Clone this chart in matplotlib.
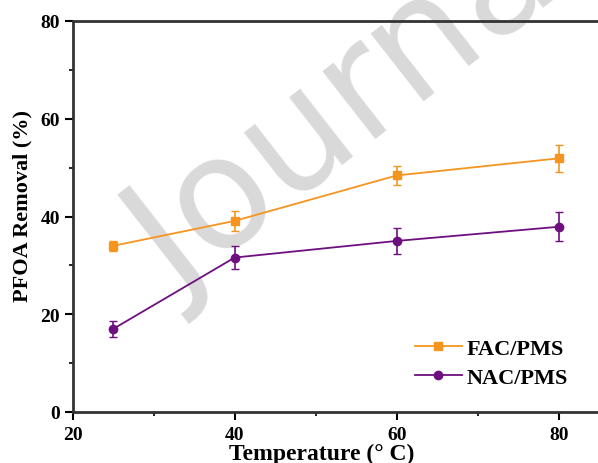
import matplotlib
matplotlib.use("Agg")
import matplotlib.pyplot as plt
from matplotlib.lines import Line2D
from matplotlib.ticker import MultipleLocator

temperature = [25, 40, 60, 80]
fac_pms = [34.0, 39.1, 48.4, 51.9]
fac_err = [1.0, 2.0, 2.0, 2.7]
nac_pms = [17.0, 31.6, 35.0, 37.9]
nac_err = [1.7, 2.3, 2.6, 3.0]

orange = "#F5951F"
purple = "#6E0F80"

plt.rcParams["font.family"] = ["Liberation Serif", "DejaVu Serif"]
plt.rcParams["font.weight"] = "bold"

fig = plt.figure(figsize=(5.98, 4.64), dpi=100)
ax = fig.add_axes([72.7 / 598, 51 / 464, 526.5 / 598, 391 / 464])

# watermark behind the plot
fig.text(178 / 598, 1 - 300 / 464, "Journal Pre-proof", fontsize=112,
         color="#d9d9d9", rotation=38, rotation_mode="anchor",
         ha="left", va="baseline", family="DejaVu Sans", fontweight="normal",
         zorder=-5)
ax.patch.set_alpha(0)

ax.errorbar(temperature, fac_pms, yerr=fac_err, color=orange, marker="s",
            markersize=6, linewidth=1.3, capsize=3, elinewidth=1.2)
ax.errorbar(temperature, nac_pms, yerr=nac_err, color=purple, marker="o",
            markersize=6, linewidth=1.3, capsize=3, elinewidth=1.2)

ax.set_xlim(20, 85)
ax.set_ylim(0, 80)
ax.xaxis.set_major_locator(MultipleLocator(20))
ax.xaxis.set_minor_locator(MultipleLocator(10))
ax.yaxis.set_major_locator(MultipleLocator(20))
ax.yaxis.set_minor_locator(MultipleLocator(10))
ax.tick_params(which="major", direction="out", length=6, width=1.5,
               labelsize=14, pad=3)
ax.tick_params(which="minor", direction="out", length=3, width=1.2)
ax.tick_params(axis="x", which="major", pad=4)
for lab in ax.get_xticklabels() + ax.get_yticklabels():
    lab.set_fontweight("bold")

for s in ["left", "bottom", "top"]:
    ax.spines[s].set_linewidth(2)
    ax.spines[s].set_color("#333333")
ax.spines["right"].set_visible(False)

ax.set_xlabel("Temperature (° C)", fontsize=17, fontweight="bold")
ax.xaxis.set_label_coords(0.472, -0.078)
ax.set_ylabel("PFOA Removal (%)", fontsize=16, fontweight="bold")
ax.yaxis.set_label_coords(-0.076, 0.53)

handles = [
    Line2D([], [], color=orange, marker="s", markersize=6, linewidth=1.3),
    Line2D([], [], color=purple, marker="o", markersize=6, linewidth=1.3),
]
ax.legend(handles, ["FAC/PMS", "NAC/PMS"], loc="lower left",
          bbox_to_anchor=(0.633, 0.038), borderaxespad=0,
          frameon=False, handlelength=2.1, handletextpad=0.25,
          labelspacing=0.4, prop={"weight": "bold", "size": 16})

fig.savefig("out.png", dpi=100)
